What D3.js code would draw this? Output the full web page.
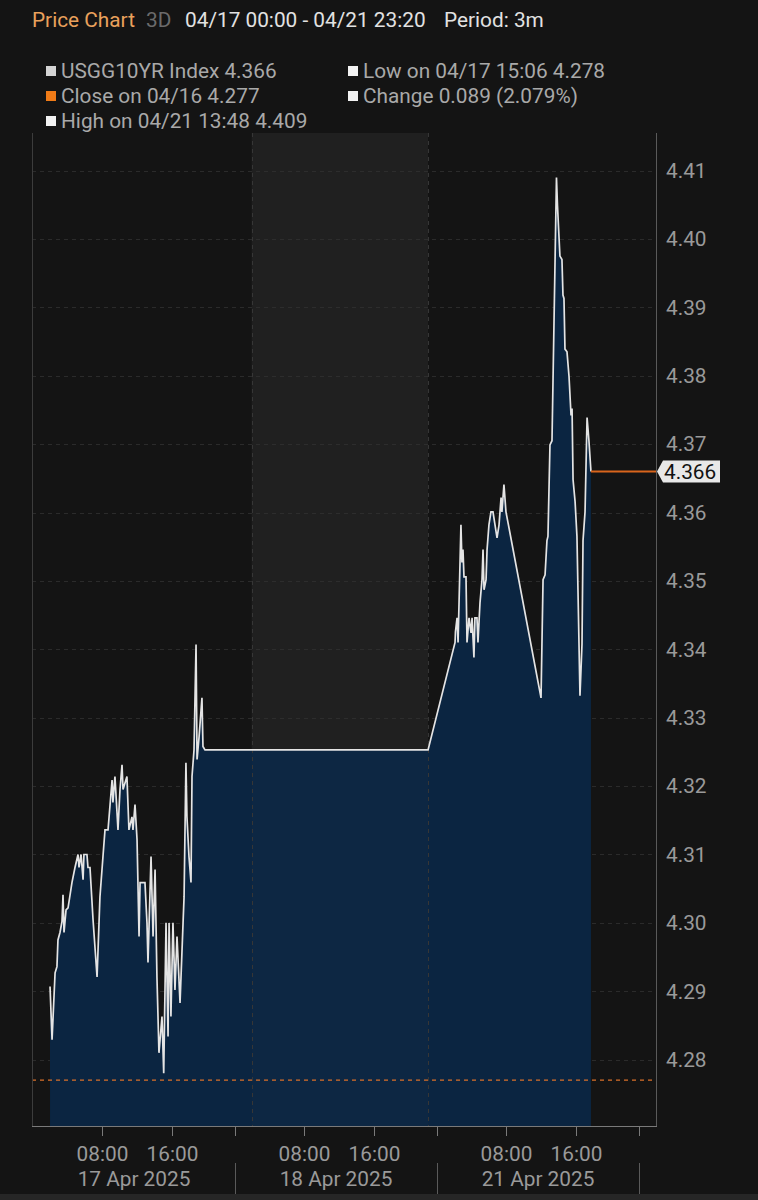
<!DOCTYPE html>
<html>
<head>
<meta charset="utf-8">
<script src="https://cdn.jsdelivr.net/npm/d3@7"></script>
<style>
  html, body { margin: 0; padding: 0; background: #141414; }
  svg { display: block; font-family: Roboto, 'Noto Sans', sans-serif; }
</style>
</head>
<body>
<div id="chart_area"></div>
<script>
// sessions shown on the axis (each one runs 00:00 - 23:20)
const days = ['04/17', '04/18', '04/21'];
const dayLabels = ['17 Apr 2025', '18 Apr 2025', '21 Apr 2025'];
const hourTicks = ['08:00', '16:00'];
const yTicks = [4.28, 4.29, 4.30, 4.31, 4.32, 4.33, 4.34, 4.35, 4.36, 4.37, 4.38, 4.39, 4.40, 4.41];

// 3m prints of USGG10YR
const times = [
  '04/17 01:58', '04/17 02:12', '04/17 02:33', '04/17 02:46', '04/17 02:53', '04/17 03:07',
  '04/17 03:21', '04/17 03:28', '04/17 03:35', '04/17 03:49', '04/17 04:03', '04/17 04:30',
  '04/17 04:51', '04/17 05:12', '04/17 05:19', '04/17 05:33', '04/17 05:47', '04/17 05:53',
  '04/17 06:14', '04/17 06:21', '04/17 06:35', '04/17 06:56', '04/17 07:24', '04/17 07:44',
  '04/17 08:05', '04/17 08:19', '04/17 08:40', '04/17 09:08', '04/17 09:14', '04/17 09:28',
  '04/17 09:49', '04/17 10:03', '04/17 10:17', '04/17 10:24', '04/17 10:51', '04/17 11:05',
  '04/17 11:26', '04/17 11:33', '04/17 11:47', '04/17 12:01', '04/17 12:15', '04/17 12:22',
  '04/17 12:56', '04/17 13:10', '04/17 13:17', '04/17 13:38', '04/17 13:52', '04/17 14:06',
  '04/17 14:19', '04/17 14:33', '04/17 14:54', '04/17 15:06', '04/17 15:22', '04/17 15:36',
  '04/17 15:43', '04/17 15:56', '04/17 16:10', '04/17 16:24', '04/17 16:38', '04/17 16:59',
  '04/17 17:20', '04/17 17:27', '04/17 17:40', '04/17 17:47', '04/17 18:01', '04/17 18:15',
  '04/17 18:22', '04/17 18:36', '04/17 18:50', '04/17 18:57', '04/17 19:11', '04/17 19:31',
  '04/17 19:38', '04/17 19:52', '04/18 22:18',
  '04/21 02:05', '04/21 02:08', '04/21 02:19', '04/21 02:26', '04/21 02:46', '04/21 02:53',
  '04/21 03:00', '04/21 03:07', '04/21 03:21', '04/21 03:28', '04/21 03:42', '04/21 03:56',
  '04/21 04:03', '04/21 04:16', '04/21 04:23', '04/21 04:37', '04/21 04:44', '04/21 04:58',
  '04/21 05:12', '04/21 05:19', '04/21 05:26', '04/21 05:40', '04/21 05:47', '04/21 06:00',
  '04/21 06:14', '04/21 06:28', '04/21 06:42', '04/21 06:56', '04/21 07:10', '04/21 07:24',
  '04/21 07:30', '04/21 07:44', '04/21 07:58', '04/21 12:01', '04/21 12:15', '04/21 12:29',
  '04/21 12:42', '04/21 12:49', '04/21 13:03', '04/21 13:17', '04/21 13:48', '04/21 13:55',
  '04/21 14:12', '04/21 14:26', '04/21 14:33', '04/21 14:40', '04/21 14:47', '04/21 15:01',
  '04/21 15:15', '04/21 15:29', '04/21 15:36', '04/21 15:43', '04/21 15:57', '04/21 16:10',
  '04/21 16:17', '04/21 16:31', '04/21 16:45', '04/21 16:52', '04/21 17:06', '04/21 17:20',
  '04/21 17:27', '04/21 17:33', '04/21 17:47'
];
const values = [
  4.2907, 4.2829, 4.2927, 4.2936, 4.2975, 4.2986,
  4.3002, 4.3041, 4.2986, 4.3019, 4.3022, 4.3059,
  4.3081, 4.3100, 4.3081, 4.3100, 4.3063, 4.3100,
  4.3100, 4.3081, 4.3081, 4.3005, 4.2921, 4.3038,
  4.3097, 4.3136, 4.3136, 4.3209, 4.3176, 4.3214,
  4.3136, 4.3195, 4.3231, 4.3195, 4.3214, 4.3136,
  4.3155, 4.3136, 4.3173, 4.3122, 4.2980, 4.3059,
  4.3059, 4.3000, 4.2942, 4.3097, 4.2980, 4.3078,
  4.2921, 4.2810, 4.2863, 4.2780, 4.3000, 4.2834,
  4.3000, 4.2863, 4.3000, 4.2902, 4.2980, 4.2883,
  4.3000, 4.3038, 4.3234, 4.3155, 4.3097, 4.3059,
  4.3214, 4.3253, 4.3407, 4.3239, 4.3272, 4.3329,
  4.3258, 4.3253, 4.3253,
  4.3410, 4.3426, 4.3446, 4.3410, 4.3582, 4.3527,
  4.3546, 4.3506, 4.3506, 4.3410, 4.3446, 4.3424,
  4.3446, 4.3388, 4.3446, 4.3446, 4.3410, 4.3468,
  4.3502, 4.3546, 4.3487, 4.3502, 4.3546, 4.3582,
  4.3601, 4.3601, 4.3582, 4.3563, 4.3582, 4.3622,
  4.3601, 4.3641, 4.3601, 4.3329, 4.3502, 4.3509,
  4.3559, 4.3565, 4.3699, 4.3705, 4.4090, 4.4049,
  4.3975, 4.3970, 4.3918, 4.3913, 4.3839, 4.3835,
  4.3799, 4.3742, 4.3752, 4.3648, 4.3616, 4.3565,
  4.3487, 4.3332, 4.3408, 4.3559, 4.3601, 4.3739,
  4.3721, 4.3705, 4.3660
];
const lastValue = 4.366;
const prevClose = 4.277;
// no-trade shading on 18 Apr
const bandTimes = ['04/18 01:55', '04/18 22:18'];

const legendLeft = [
  { text: 'USGG10YR Index 4.366', color: '#d4d4d4' },
  { text: 'Close on 04/16 4.277', color: '#f07b17' },
  { text: 'High on 04/21 13:48 4.409', color: '#f2f2f2' }
];
const legendRight = [
  { text: 'Low on 04/17 15:06 4.278', color: '#f2f2f2' },
  { text: 'Change 0.089 (2.079%)', color: '#f2f2f2' }
];

const width = 758;
const height = 1200;
const plot = { left: 32, right: 656, top: 133, bottom: 1126 };
const sessionLen = 1400; // minutes, 00:00 - 23:20
const fontSize = 20.8;

function toMinutes(t) {
  const parts = t.split(' ');
  const hm = parts[1].split(':');
  return days.indexOf(parts[0]) * sessionLen + (+hm[0]) * 60 + (+hm[1]);
}

const x = d3.scaleLinear().domain([0, days.length * sessionLen]).range([33, 639]);
const y = d3.scaleLinear().domain([4.2703, 4.4155]).range([plot.bottom, plot.top]);

const data = times.map((t, i) => ({ m: toMinutes(t), v: values[i] }));

const svg = d3
  .select('#chart_area')
  .append('svg')
  .attr('width', width)
  .attr('height', height);

svg.append('rect').attr('width', width).attr('height', height).attr('fill', '#141414');

// header
const header = svg.append('text').attr('x', 32).attr('y', 27).attr('font-size', fontSize);
header.append('tspan').attr('fill', '#e9a15c').text('Price Chart');
header.append('tspan').attr('x', 146).attr('fill', '#6b6b6b').text('3D');
header.append('tspan').attr('x', 185).attr('fill', '#e2e2e2').text('04/17 00:00 - 04/21 23:20');
header.append('tspan').attr('x', 444).attr('fill', '#e2e2e2').text('Period: 3m');

// legend
function drawLegend(items, x0) {
  items.forEach((item, i) => {
    const by = 78 + i * 25;
    svg
      .append('rect')
      .attr('x', x0)
      .attr('y', by - 12)
      .attr('width', 10)
      .attr('height', 10)
      .attr('fill', item.color);
    svg
      .append('text')
      .attr('x', x0 + 15)
      .attr('y', by)
      .attr('font-size', fontSize)
      .attr('fill', '#a9a9a9')
      .text(item.text);
  });
}
drawLegend(legendLeft, 46);
drawLegend(legendRight, 348);

// shaded band (under the fill)
const bx0 = x(toMinutes(bandTimes[0]));
const bx1 = x(toMinutes(bandTimes[1]));
svg
  .append('rect')
  .attr('x', bx0)
  .attr('y', plot.top)
  .attr('width', bx1 - bx0)
  .attr('height', plot.bottom - plot.top)
  .attr('fill', '#1e1e1e');

// horizontal grid
svg
  .append('g')
  .selectAll('line')
  .data(yTicks)
  .join('line')
  .attr('x1', plot.left)
  .attr('x2', plot.right)
  .attr('y1', (d) => Math.round(y(d)) + 0.5)
  .attr('y2', (d) => Math.round(y(d)) + 0.5)
  .attr('stroke', '#2b2b2b')
  .attr('stroke-dasharray', '4,4');

// area + line
const area = d3
  .area()
  .x((d) => x(d.m))
  .y0(plot.bottom)
  .y1((d) => y(d.v));
const line = d3
  .line()
  .x((d) => x(d.m))
  .y((d) => y(d.v));

svg.append('path').datum(data).attr('d', area).attr('fill', '#0b2541');

// faint lift of the band over the fill, plus its dashed edges
svg
  .append('rect')
  .attr('x', bx0)
  .attr('y', plot.top)
  .attr('width', bx1 - bx0)
  .attr('height', plot.bottom - plot.top)
  .attr('fill', 'rgba(255,255,255,0.012)');
[bx0, bx1].forEach((bx) => {
  svg
    .append('line')
    .attr('x1', Math.round(bx) + 0.5)
    .attr('x2', Math.round(bx) + 0.5)
    .attr('y1', plot.top)
    .attr('y2', plot.bottom)
    .attr('stroke', '#363636')
    .attr('stroke-dasharray', '4,4');
});

svg
  .append('path')
  .datum(data)
  .attr('d', line)
  .attr('fill', 'none')
  .attr('stroke', '#e4e4e4')
  .attr('stroke-width', 1.7);

// previous close (dashed) and last value line
svg
  .append('line')
  .attr('x1', plot.left)
  .attr('x2', plot.right)
  .attr('y1', y(prevClose))
  .attr('y2', y(prevClose))
  .attr('stroke', '#d9702a')
  .attr('stroke-width', 1.2)
  .attr('stroke-dasharray', '4,4');

const lastX = x(data[data.length - 1].m);
svg
  .append('line')
  .attr('x1', lastX)
  .attr('x2', plot.right)
  .attr('y1', y(lastValue))
  .attr('y2', y(lastValue))
  .attr('stroke', '#d9651c')
  .attr('stroke-width', 2);

// frame
svg
  .append('line')
  .attr('x1', plot.left + 0.5)
  .attr('x2', plot.left + 0.5)
  .attr('y1', plot.top)
  .attr('y2', plot.bottom)
  .attr('stroke', '#3c3c3c');
svg
  .append('line')
  .attr('x1', plot.right + 0.5)
  .attr('x2', plot.right + 0.5)
  .attr('y1', plot.top)
  .attr('y2', plot.bottom)
  .attr('stroke', '#5a5a5a');
svg
  .append('line')
  .attr('x1', plot.left)
  .attr('x2', plot.right + 1)
  .attr('y1', plot.bottom + 0.5)
  .attr('y2', plot.bottom + 0.5)
  .attr('stroke', '#7a7a7a');

// y axis labels
svg
  .append('g')
  .selectAll('text')
  .data(yTicks)
  .join('text')
  .attr('x', 666)
  .attr('y', (d) => y(d))
  .attr('dy', '0.35em')
  .attr('font-size', fontSize)
  .attr('fill', '#9a9a9a')
  .text((d) => d3.format('.2f')(d));

// last value tag
const ly = y(lastValue);
svg
  .append('path')
  .attr(
    'd',
    `M${plot.right + 1},${ly} L${plot.right + 7},${ly - 11} L720,${ly - 11} L720,${ly + 11} L${plot.right + 7},${ly + 11} Z`
  )
  .attr('fill', '#e8e8e8');
svg
  .append('text')
  .attr('x', 664)
  .attr('y', ly)
  .attr('dy', '0.36em')
  .attr('font-size', fontSize)
  .attr('fill', '#111')
  .text(d3.format('.3f')(lastValue));

// x axis ticks and labels
const tickColor = '#7a7a7a';
days.forEach((day, i) => {
  hourTicks.forEach((h) => {
    const tx = Math.round(x(toMinutes(day + ' ' + h))) + 0.5;
    svg
      .append('line')
      .attr('x1', tx)
      .attr('x2', tx)
      .attr('y1', plot.bottom)
      .attr('y2', plot.bottom + 10)
      .attr('stroke', tickColor);
    svg
      .append('text')
      .attr('x', tx)
      .attr('y', 1161)
      .attr('text-anchor', 'middle')
      .attr('font-size', fontSize)
      .attr('fill', '#9a9a9a')
      .text(h);
  });
  const endX = Math.round(x((i + 1) * sessionLen)) + 0.5;
  svg
    .append('line')
    .attr('x1', endX)
    .attr('x2', endX)
    .attr('y1', plot.bottom)
    .attr('y2', plot.bottom + 10)
    .attr('stroke', tickColor);
  svg
    .append('line')
    .attr('x1', endX)
    .attr('x2', endX)
    .attr('y1', 1163)
    .attr('y2', 1194)
    .attr('stroke', '#5a5a5a');
  svg
    .append('text')
    .attr('x', x((i + 0.5) * sessionLen))
    .attr('y', 1186)
    .attr('text-anchor', 'middle')
    .attr('font-size', fontSize)
    .attr('fill', '#9a9a9a')
    .text(dayLabels[i]);
});

// bottom strip
svg.append('rect').attr('x', 0).attr('y', 1194).attr('width', width).attr('height', 6).attr('fill', '#262626');
</script>
</body>
</html>
